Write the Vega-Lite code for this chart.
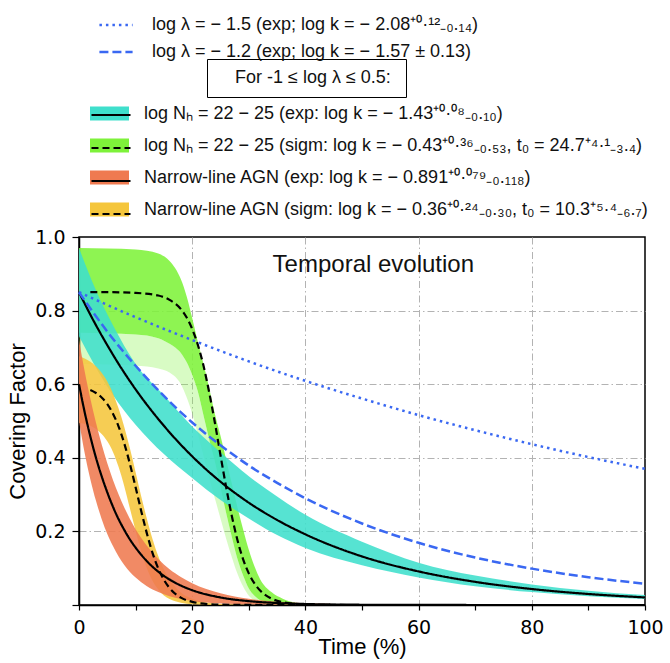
{
  "$schema": "https://vega.github.io/schema/vega-lite/v6.json",
  "width": 566,
  "height": 368,
  "autosize": {"type": "none"},
  "padding": {"left": 79, "top": 237, "right": 25, "bottom": 58},

  "datasets": {
    "bands": [
      {"band": "NH exp", "t": 0, "lo": 0.73, "hi": 0.97},
      {"band": "NH exp", "t": 3, "lo": 0.645, "hi": 0.855},
      {"band": "NH exp", "t": 6, "lo": 0.57, "hi": 0.76},
      {"band": "NH exp", "t": 10, "lo": 0.49, "hi": 0.655},
      {"band": "NH exp", "t": 15, "lo": 0.41, "hi": 0.57},
      {"band": "NH exp", "t": 20, "lo": 0.345, "hi": 0.485},
      {"band": "NH exp", "t": 25, "lo": 0.285, "hi": 0.415},
      {"band": "NH exp", "t": 30, "lo": 0.235, "hi": 0.35},
      {"band": "NH exp", "t": 35, "lo": 0.19, "hi": 0.295},
      {"band": "NH exp", "t": 40, "lo": 0.155, "hi": 0.245},
      {"band": "NH exp", "t": 50, "lo": 0.108, "hi": 0.172},
      {"band": "NH exp", "t": 60, "lo": 0.075, "hi": 0.115},
      {"band": "NH exp", "t": 70, "lo": 0.051, "hi": 0.08},
      {"band": "NH exp", "t": 80, "lo": 0.035, "hi": 0.056},
      {"band": "NH exp", "t": 90, "lo": 0.024, "hi": 0.039},
      {"band": "NH exp", "t": 100, "lo": 0.016, "hi": 0.027},

      {"band": "NH sigm", "t": 0, "lo": 0.74, "hi": 0.97},
      {"band": "NH sigm", "t": 10, "lo": 0.735, "hi": 0.966},
      {"band": "NH sigm", "t": 14, "lo": 0.725, "hi": 0.955},
      {"band": "NH sigm", "t": 16, "lo": 0.71, "hi": 0.935},
      {"band": "NH sigm", "t": 17, "lo": 0.7, "hi": 0.915},
      {"band": "NH sigm", "t": 18, "lo": 0.685, "hi": 0.885},
      {"band": "NH sigm", "t": 19, "lo": 0.66, "hi": 0.84},
      {"band": "NH sigm", "t": 20, "lo": 0.625, "hi": 0.78},
      {"band": "NH sigm", "t": 21, "lo": 0.58, "hi": 0.715},
      {"band": "NH sigm", "t": 22, "lo": 0.515, "hi": 0.655},
      {"band": "NH sigm", "t": 23, "lo": 0.45, "hi": 0.59},
      {"band": "NH sigm", "t": 24, "lo": 0.39, "hi": 0.52},
      {"band": "NH sigm", "t": 25, "lo": 0.32, "hi": 0.46},
      {"band": "NH sigm", "t": 26, "lo": 0.25, "hi": 0.395},
      {"band": "NH sigm", "t": 27, "lo": 0.185, "hi": 0.33},
      {"band": "NH sigm", "t": 28, "lo": 0.125, "hi": 0.265},
      {"band": "NH sigm", "t": 29, "lo": 0.08, "hi": 0.205},
      {"band": "NH sigm", "t": 30, "lo": 0.045, "hi": 0.15},
      {"band": "NH sigm", "t": 31, "lo": 0.025, "hi": 0.105},
      {"band": "NH sigm", "t": 32, "lo": 0.013, "hi": 0.07},
      {"band": "NH sigm", "t": 34, "lo": 0.004, "hi": 0.035},
      {"band": "NH sigm", "t": 36, "lo": 0.001, "hi": 0.017},
      {"band": "NH sigm", "t": 38, "lo": 0, "hi": 0.007},
      {"band": "NH sigm", "t": 40, "lo": 0, "hi": 0.003},
      {"band": "NH sigm", "t": 45, "lo": 0, "hi": 0.0005},
      {"band": "NH sigm", "t": 50, "lo": 0, "hi": 0},

      {"band": "NL exp", "t": 0, "lo": 0.5, "hi": 0.72},
      {"band": "NL exp", "t": 1, "lo": 0.413, "hi": 0.635},
      {"band": "NL exp", "t": 2, "lo": 0.342, "hi": 0.561},
      {"band": "NL exp", "t": 3, "lo": 0.283, "hi": 0.495},
      {"band": "NL exp", "t": 4, "lo": 0.234, "hi": 0.437},
      {"band": "NL exp", "t": 5, "lo": 0.193, "hi": 0.385},
      {"band": "NL exp", "t": 6, "lo": 0.16, "hi": 0.34},
      {"band": "NL exp", "t": 7, "lo": 0.132, "hi": 0.3},
      {"band": "NL exp", "t": 8, "lo": 0.109, "hi": 0.265},
      {"band": "NL exp", "t": 9, "lo": 0.09, "hi": 0.234},
      {"band": "NL exp", "t": 10, "lo": 0.075, "hi": 0.206},
      {"band": "NL exp", "t": 12, "lo": 0.051, "hi": 0.161},
      {"band": "NL exp", "t": 14, "lo": 0.035, "hi": 0.125},
      {"band": "NL exp", "t": 16, "lo": 0.024, "hi": 0.097},
      {"band": "NL exp", "t": 18, "lo": 0.016, "hi": 0.076},
      {"band": "NL exp", "t": 20, "lo": 0.011, "hi": 0.059},
      {"band": "NL exp", "t": 25, "lo": 0.004, "hi": 0.032},
      {"band": "NL exp", "t": 30, "lo": 0.002, "hi": 0.017},
      {"band": "NL exp", "t": 35, "lo": 0.001, "hi": 0.009},
      {"band": "NL exp", "t": 40, "lo": 0, "hi": 0.005},
      {"band": "NL exp", "t": 50, "lo": 0, "hi": 0.0014},
      {"band": "NL exp", "t": 60, "lo": 0, "hi": 0.0004},
      {"band": "NL exp", "t": 70, "lo": 0, "hi": 0},

      {"band": "NL sigm", "t": 0, "lo": 0.495, "hi": 0.676},
      {"band": "NL sigm", "t": 1, "lo": 0.492, "hi": 0.67},
      {"band": "NL sigm", "t": 2, "lo": 0.487, "hi": 0.661},
      {"band": "NL sigm", "t": 3, "lo": 0.478, "hi": 0.649},
      {"band": "NL sigm", "t": 4, "lo": 0.465, "hi": 0.631},
      {"band": "NL sigm", "t": 5, "lo": 0.445, "hi": 0.607},
      {"band": "NL sigm", "t": 6, "lo": 0.416, "hi": 0.575},
      {"band": "NL sigm", "t": 7, "lo": 0.375, "hi": 0.534},
      {"band": "NL sigm", "t": 8, "lo": 0.323, "hi": 0.484},
      {"band": "NL sigm", "t": 9, "lo": 0.262, "hi": 0.425},
      {"band": "NL sigm", "t": 10, "lo": 0.201, "hi": 0.361},
      {"band": "NL sigm", "t": 11, "lo": 0.145, "hi": 0.295},
      {"band": "NL sigm", "t": 12, "lo": 0.099, "hi": 0.234},
      {"band": "NL sigm", "t": 13, "lo": 0.065, "hi": 0.179},
      {"band": "NL sigm", "t": 14, "lo": 0.042, "hi": 0.133},
      {"band": "NL sigm", "t": 15, "lo": 0.026, "hi": 0.097},
      {"band": "NL sigm", "t": 16, "lo": 0.016, "hi": 0.07},
      {"band": "NL sigm", "t": 18, "lo": 0.006, "hi": 0.034},
      {"band": "NL sigm", "t": 20, "lo": 0.002, "hi": 0.017},
      {"band": "NL sigm", "t": 22, "lo": 0.001, "hi": 0.008},
      {"band": "NL sigm", "t": 25, "lo": 0, "hi": 0.0025},
      {"band": "NL sigm", "t": 30, "lo": 0, "hi": 0.0004},
      {"band": "NL sigm", "t": 35, "lo": 0, "hi": 0}
    ],

    "halo": [
      {"t": 0, "lo": 0.655, "hi": 0.74},
      {"t": 10, "lo": 0.65, "hi": 0.735},
      {"t": 14, "lo": 0.643, "hi": 0.725},
      {"t": 16, "lo": 0.632, "hi": 0.71},
      {"t": 17, "lo": 0.62, "hi": 0.7},
      {"t": 18, "lo": 0.6, "hi": 0.685},
      {"t": 19, "lo": 0.565, "hi": 0.66},
      {"t": 20, "lo": 0.52, "hi": 0.625},
      {"t": 21, "lo": 0.465, "hi": 0.58},
      {"t": 22, "lo": 0.405, "hi": 0.515},
      {"t": 23, "lo": 0.345, "hi": 0.45},
      {"t": 24, "lo": 0.29, "hi": 0.39},
      {"t": 25, "lo": 0.235, "hi": 0.32},
      {"t": 26, "lo": 0.18, "hi": 0.25},
      {"t": 27, "lo": 0.13, "hi": 0.185},
      {"t": 28, "lo": 0.085, "hi": 0.125},
      {"t": 29, "lo": 0.05, "hi": 0.08},
      {"t": 30, "lo": 0.025, "hi": 0.045},
      {"t": 31, "lo": 0.012, "hi": 0.025},
      {"t": 32, "lo": 0.005, "hi": 0.013},
      {"t": 34, "lo": 0.001, "hi": 0.004},
      {"t": 36, "lo": 0, "hi": 0.001}
    ],

    "fits": [
      {"curve": "NH exp", "t": 0, "v": 0.85},
      {"curve": "NH exp", "t": 2.5, "v": 0.7745},
      {"curve": "NH exp", "t": 5, "v": 0.706},
      {"curve": "NH exp", "t": 7.5, "v": 0.643},
      {"curve": "NH exp", "t": 10, "v": 0.586},
      {"curve": "NH exp", "t": 15, "v": 0.487},
      {"curve": "NH exp", "t": 20, "v": 0.404},
      {"curve": "NH exp", "t": 25, "v": 0.335},
      {"curve": "NH exp", "t": 30, "v": 0.278},
      {"curve": "NH exp", "t": 35, "v": 0.231},
      {"curve": "NH exp", "t": 40, "v": 0.192},
      {"curve": "NH exp", "t": 50, "v": 0.132},
      {"curve": "NH exp", "t": 60, "v": 0.0912},
      {"curve": "NH exp", "t": 70, "v": 0.0629},
      {"curve": "NH exp", "t": 80, "v": 0.0434},
      {"curve": "NH exp", "t": 90, "v": 0.0299},
      {"curve": "NH exp", "t": 100, "v": 0.0206},

      {"curve": "NH sigm", "t": 2, "v": 0.85},
      {"curve": "NH sigm", "t": 5, "v": 0.85},
      {"curve": "NH sigm", "t": 10, "v": 0.848},
      {"curve": "NH sigm", "t": 14, "v": 0.841},
      {"curve": "NH sigm", "t": 16, "v": 0.829},
      {"curve": "NH sigm", "t": 18, "v": 0.804},
      {"curve": "NH sigm", "t": 19, "v": 0.782},
      {"curve": "NH sigm", "t": 20, "v": 0.75},
      {"curve": "NH sigm", "t": 21, "v": 0.707},
      {"curve": "NH sigm", "t": 22, "v": 0.65},
      {"curve": "NH sigm", "t": 23, "v": 0.578},
      {"curve": "NH sigm", "t": 24, "v": 0.496},
      {"curve": "NH sigm", "t": 25, "v": 0.407},
      {"curve": "NH sigm", "t": 26, "v": 0.32},
      {"curve": "NH sigm", "t": 27, "v": 0.242},
      {"curve": "NH sigm", "t": 28, "v": 0.176},
      {"curve": "NH sigm", "t": 29, "v": 0.124},
      {"curve": "NH sigm", "t": 30, "v": 0.086},
      {"curve": "NH sigm", "t": 31, "v": 0.0585},
      {"curve": "NH sigm", "t": 32, "v": 0.0394},
      {"curve": "NH sigm", "t": 34, "v": 0.0175},
      {"curve": "NH sigm", "t": 36, "v": 0.0076},
      {"curve": "NH sigm", "t": 38, "v": 0.0033},
      {"curve": "NH sigm", "t": 40, "v": 0.0014},
      {"curve": "NH sigm", "t": 45, "v": 0.0002},
      {"curve": "NH sigm", "t": 50, "v": 0},
      {"curve": "NH sigm", "t": 100, "v": 0},

      {"curve": "NL exp", "t": 0, "v": 0.6},
      {"curve": "NL exp", "t": 1, "v": 0.524},
      {"curve": "NL exp", "t": 2, "v": 0.458},
      {"curve": "NL exp", "t": 3, "v": 0.4},
      {"curve": "NL exp", "t": 4, "v": 0.35},
      {"curve": "NL exp", "t": 5, "v": 0.306},
      {"curve": "NL exp", "t": 6, "v": 0.267},
      {"curve": "NL exp", "t": 7, "v": 0.233},
      {"curve": "NL exp", "t": 8, "v": 0.204},
      {"curve": "NL exp", "t": 9, "v": 0.178},
      {"curve": "NL exp", "t": 10, "v": 0.156},
      {"curve": "NL exp", "t": 12, "v": 0.119},
      {"curve": "NL exp", "t": 14, "v": 0.0907},
      {"curve": "NL exp", "t": 16, "v": 0.0692},
      {"curve": "NL exp", "t": 18, "v": 0.0528},
      {"curve": "NL exp", "t": 20, "v": 0.0403},
      {"curve": "NL exp", "t": 25, "v": 0.0205},
      {"curve": "NL exp", "t": 30, "v": 0.0105},
      {"curve": "NL exp", "t": 35, "v": 0.0053},
      {"curve": "NL exp", "t": 40, "v": 0.0027},
      {"curve": "NL exp", "t": 50, "v": 0.0007},
      {"curve": "NL exp", "t": 60, "v": 0.0002},
      {"curve": "NL exp", "t": 80, "v": 0},
      {"curve": "NL exp", "t": 100, "v": 0},

      {"curve": "NL sigm", "t": 2, "v": 0.584},
      {"curve": "NL sigm", "t": 3, "v": 0.576},
      {"curve": "NL sigm", "t": 4, "v": 0.564},
      {"curve": "NL sigm", "t": 5, "v": 0.546},
      {"curve": "NL sigm", "t": 6, "v": 0.52},
      {"curve": "NL sigm", "t": 7, "v": 0.485},
      {"curve": "NL sigm", "t": 8, "v": 0.439},
      {"curve": "NL sigm", "t": 9, "v": 0.383},
      {"curve": "NL sigm", "t": 10, "v": 0.32},
      {"curve": "NL sigm", "t": 11, "v": 0.255},
      {"curve": "NL sigm", "t": 12, "v": 0.194},
      {"curve": "NL sigm", "t": 13, "v": 0.141},
      {"curve": "NL sigm", "t": 14, "v": 0.0995},
      {"curve": "NL sigm", "t": 15, "v": 0.0683},
      {"curve": "NL sigm", "t": 16, "v": 0.046},
      {"curve": "NL sigm", "t": 18, "v": 0.0201},
      {"curve": "NL sigm", "t": 20, "v": 0.0086},
      {"curve": "NL sigm", "t": 22, "v": 0.0036},
      {"curve": "NL sigm", "t": 25, "v": 0.001},
      {"curve": "NL sigm", "t": 30, "v": 0.0001},
      {"curve": "NL sigm", "t": 40, "v": 0},
      {"curve": "NL sigm", "t": 100, "v": 0}
    ],

    "lambda": [
      {"model": "lam15", "t": 0, "v": 0.85},
      {"model": "lam15", "t": 10, "v": 0.782},
      {"model": "lam15", "t": 20, "v": 0.72},
      {"model": "lam15", "t": 30, "v": 0.662},
      {"model": "lam15", "t": 40, "v": 0.609},
      {"model": "lam15", "t": 50, "v": 0.561},
      {"model": "lam15", "t": 60, "v": 0.516},
      {"model": "lam15", "t": 70, "v": 0.475},
      {"model": "lam15", "t": 80, "v": 0.437},
      {"model": "lam15", "t": 90, "v": 0.402},
      {"model": "lam15", "t": 100, "v": 0.37},

      {"model": "lam12", "t": 0, "v": 0.85},
      {"model": "lam12", "t": 5, "v": 0.743},
      {"model": "lam12", "t": 10, "v": 0.65},
      {"model": "lam12", "t": 15, "v": 0.568},
      {"model": "lam12", "t": 20, "v": 0.496},
      {"model": "lam12", "t": 25, "v": 0.434},
      {"model": "lam12", "t": 30, "v": 0.379},
      {"model": "lam12", "t": 35, "v": 0.332},
      {"model": "lam12", "t": 40, "v": 0.29},
      {"model": "lam12", "t": 50, "v": 0.2215},
      {"model": "lam12", "t": 60, "v": 0.169},
      {"model": "lam12", "t": 70, "v": 0.129},
      {"model": "lam12", "t": 80, "v": 0.0988},
      {"model": "lam12", "t": 90, "v": 0.0755},
      {"model": "lam12", "t": 100, "v": 0.0577}
    ]
  },

  "layer": [
    {
      "data": {"name": "halo"},
      "mark": {"type": "area", "interpolate": "monotone", "color": "#7ef23a", "opacity": 0.3},
      "encoding": {
        "x": {
          "field": "t",
          "type": "quantitative",
          "title": "Time (%)",
          "scale": {"domain": [0, 100], "nice": false},
          "axis": {
            "values": [0, 5, 10, 15, 20, 25, 30, 35, 40, 45, 50, 55, 60, 65, 70, 75, 80, 85, 90, 95, 100],
            "labelExpr": "datum.value % 20 === 0 ? datum.label : ''",
            "labelFlush": false,
            "labelOverlap": false,
            "labelPadding": 8,
            "tickSize": 5,
            "grid": true,
            "gridOpacity": {"condition": {"test": "datum.value % 20 === 0 && datum.value > 0 && datum.value < 100", "value": 1}, "value": 0},
            "titlePadding": -1
          }
        },
        "y": {
          "field": "lo",
          "type": "quantitative",
          "title": "Covering Factor",
          "scale": {"domain": [0, 1], "nice": false, "zero": false},
          "axis": {
            "values": [0, 0.05, 0.1, 0.15, 0.2, 0.25, 0.3, 0.35, 0.4, 0.45, 0.5, 0.55, 0.6, 0.65, 0.7, 0.75, 0.8, 0.85, 0.9, 0.95, 1],
            "labelExpr": "datum.value > 0.15 && abs(datum.value * 5 - round(datum.value * 5)) < 0.001 ? format(datum.value, '.1f') : ''",
            "labelOverlap": false,
            "labelPadding": 7,
            "tickSize": {"condition": {"test": "abs(datum.value * 5 - round(datum.value * 5)) < 0.001", "value": 7}, "value": 3.5},
            "grid": true,
            "gridOpacity": {"condition": {"test": "abs(datum.value * 5 - round(datum.value * 5)) < 0.001 && datum.value > 0.1 && datum.value < 0.9", "value": 1}, "value": 0},
            "titlePadding": 5
          }
        },
        "y2": {"field": "hi"}
      }
    },
    {
      "data": {"name": "bands"},
      "encoding": {
        "x": {"field": "t", "type": "quantitative"},
        "y": {"field": "lo", "type": "quantitative"},
        "y2": {"field": "hi"},
        "color": {
          "field": "band",
          "type": "nominal",
          "scale": {
            "domain": ["NH exp", "NH sigm", "NL exp", "NL sigm"],
            "range": ["#3fdfcc", "#7ef23a", "#ef7a50", "#f5c63c"]
          },
          "legend": {
            "title": null,
            "orient": "none",
            "legendX": 11,
            "legendY": -143,
            "padding": 0,
            "rowPadding": 3,
            "symbolType": "M-1,-0.36L1,-0.36L1,0.36L-1,0.36Z",
            "symbolSize": 1521,
            "symbolStrokeWidth": 0,
            "symbolOpacity": 1,
            "labelOffset": 15,
            "labelLimit": 600,
            "labelExpr": "{'NH exp': 'log Nₕ = 22 − 25 (exp: log k = − 1.43⁺⁰·⁰⁸₋₀.₁₀)', 'NH sigm': 'log Nₕ = 22 − 25 (sigm: log k = − 0.43⁺⁰·³⁶₋₀.₅₃, t₀ = 24.7⁺⁴·¹₋₃.₄)', 'NL exp': 'Narrow-line AGN (exp: log k = − 0.891⁺⁰·⁰⁷⁹₋₀.₁₁₈)', 'NL sigm': 'Narrow-line AGN (sigm: log k = − 0.36⁺⁰·²⁴₋₀.₃₀, t₀ = 10.3⁺⁵·⁴₋₆.₇)'}[datum.label]"
          }
        },
        "opacity": {
          "datum": "For -1 ≤ log  λ ≤ 0.5:",
          "type": "ordinal",
          "scale": {"range": [0.88, 0.88]},
          "legend": {
            "title": null,
            "orient": "none",
            "legendX": 128,
            "legendY": -178,
            "padding": 10,
            "strokeColor": "black",
            "symbolSize": 0,
            "symbolOpacity": 0,
            "labelOffset": 0,
            "labelLimit": 400
          }
        }
      },
      "layer": [
        {"transform": [{"filter": "datum.band === 'NH sigm'"}], "mark": {"type": "area", "interpolate": "monotone"}},
        {"transform": [{"filter": "datum.band === 'NH exp'"}], "mark": {"type": "area", "interpolate": "monotone"}},
        {"transform": [{"filter": "datum.band === 'NL sigm'"}], "mark": {"type": "area", "interpolate": "monotone"}},
        {"transform": [{"filter": "datum.band === 'NL exp'"}], "mark": {"type": "area", "interpolate": "monotone"}}
      ]
    },
    {
      "data": {"name": "fits"},
      "mark": {"type": "line", "interpolate": "monotone", "color": "black", "strokeWidth": 2.2},
      "encoding": {
        "x": {"field": "t", "type": "quantitative"},
        "y": {"field": "v", "type": "quantitative"},
        "strokeDash": {
          "field": "curve",
          "type": "nominal",
          "scale": {
            "domain": ["NH exp", "NH sigm", "NL exp", "NL sigm"],
            "range": [[1, 0], [7, 4], [1, 0], [7, 4]]
          },
          "legend": {
            "title": null,
            "orient": "none",
            "legendX": 11,
            "legendY": -143,
            "padding": 0,
            "rowPadding": 3,
            "symbolType": "stroke",
            "symbolSize": 1521,
            "symbolStrokeWidth": 2.2,
            "symbolStrokeColor": "black",
            "labelOffset": 15,
            "labelLimit": 600,
            "labelOpacity": 0,
            "labelExpr": "{'NH exp': 'log Nₕ = 22 − 25 (exp: log k = − 1.43⁺⁰·⁰⁸₋₀.₁₀)', 'NH sigm': 'log Nₕ = 22 − 25 (sigm: log k = − 0.43⁺⁰·³⁶₋₀.₅₃, t₀ = 24.7⁺⁴·¹₋₃.₄)', 'NL exp': 'Narrow-line AGN (exp: log k = − 0.891⁺⁰·⁰⁷⁹₋₀.₁₁₈)', 'NL sigm': 'Narrow-line AGN (sigm: log k = − 0.36⁺⁰·²⁴₋₀.₃₀, t₀ = 10.3⁺⁵·⁴₋₆.₇)'}[datum.label]"
          }
        }
      }
    },
    {
      "data": {"name": "lambda"},
      "mark": {"type": "line", "interpolate": "monotone", "color": "#3a68f2", "strokeWidth": 2.5},
      "encoding": {
        "x": {"field": "t", "type": "quantitative"},
        "y": {"field": "v", "type": "quantitative"},
        "strokeDash": {
          "field": "model",
          "type": "nominal",
          "scale": {"domain": ["lam15", "lam12"], "range": [[2.5, 4], [9, 4]]},
          "legend": {
            "title": null,
            "orient": "none",
            "legendX": 19,
            "legendY": -230,
            "padding": 0,
            "rowPadding": -6,
            "symbolType": "stroke",
            "symbolSize": 1100,
            "symbolStrokeWidth": 2.5,
            "symbolStrokeColor": "#3a68f2",
            "labelOffset": 18,
            "labelLimit": 600,
            "labelExpr": "{'lam15': 'log λ = − 1.5 (exp; log k = − 2.08⁺⁰·¹²₋₀.₁₄)', 'lam12': 'log λ = − 1.2 (exp; log k = − 1.57 ± 0.13)'}[datum.label]"
          }
        }
      }
    },
    {
      "data": {"values": [{"note": "Temporal evolution"}]},
      "mark": {"type": "text", "font": "Liberation Sans", "fontSize": 24, "baseline": "alphabetic", "align": "center", "color": "#111"},
      "encoding": {
        "x": {"datum": 52, "type": "quantitative"},
        "y": {"datum": 0.905, "type": "quantitative"},
        "text": {"field": "note"}
      }
    }
  ],

  "resolve": {"scale": {"strokeDash": "independent"}},

  "config": {
    "font": "Liberation Sans",
    "view": {"stroke": "black", "strokeWidth": 1.5},
    "axis": {
      "domainColor": "black",
      "domainWidth": 1.5,
      "tickColor": "black",
      "tickWidth": 1.2,
      "labelFont": "DejaVu Sans",
      "labelFontSize": 19,
      "labelColor": "black",
      "gridColor": "#b3b3b3",
      "gridDash": [7, 3, 1.5, 3],
      "gridWidth": 1,
      "titleFont": "Liberation Sans",
      "titleFontSize": 22,
      "titleFontWeight": "normal",
      "titleColor": "black"
    },
    "legend": {
      "labelFont": "Liberation Sans",
      "labelFontSize": 18,
      "labelColor": "#111"
    }
  }
}
